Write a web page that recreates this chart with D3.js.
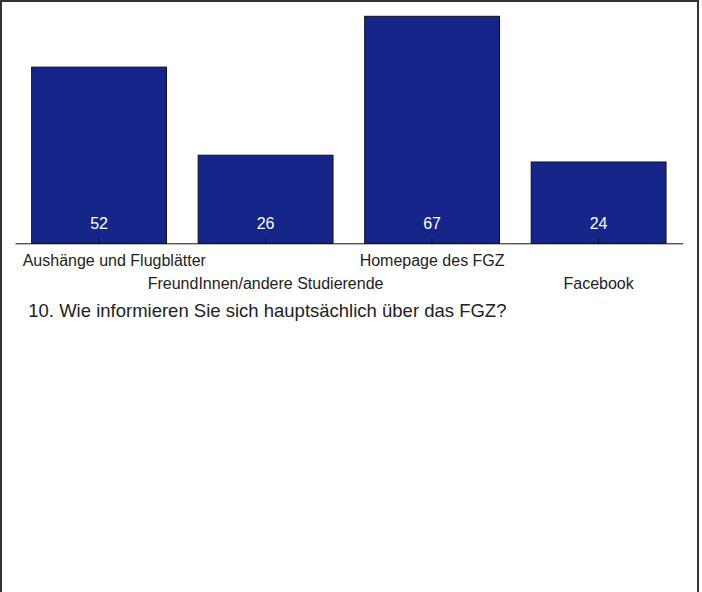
<!DOCTYPE html>
<html>
<head>
<meta charset="utf-8">
<script src="https://cdn.jsdelivr.net/npm/d3@7"></script>
<style>
  html, body { margin: 0; padding: 0; background: #fff; }
  svg { display: block; }
  text { font-family: "Liberation Sans", Arial, sans-serif; }
</style>
</head>
<body>
<svg id="chart" width="702" height="592"></svg>
<script>
const categories = ["Aushänge und Flugblätter", "FreundInnen/andere Studierende", "Homepage des FGZ", "Facebook"];
const values = [52, 26, 67, 24];
const title = "10. Wie informieren Sie sich hauptsächlich über das FGZ?";

const svg = d3.select("#chart");
const W = 702, H = 592;

// frame
svg.append("rect")
  .attr("x", 1).attr("y", 1).attr("width", 697).attr("height", H + 10)
  .attr("fill", "none").attr("stroke", "#333").attr("stroke-width", 2);

const axisY = 243.3;
const x = d3.scaleBand().domain(categories).range([15, 682.7]).paddingInner(0.19).paddingOuter(0.1);
const y = d3.scaleLinear().domain([0, d3.max(values)]).range([axisY, 16.3]);

const data = categories.map((c, i) => ({ c, v: values[i], i }));

svg.append("g").selectAll("rect").data(data).join("rect")
  .attr("x", d => x(d.c))
  .attr("y", d => y(d.v))
  .attr("width", x.bandwidth())
  .attr("height", d => y(0) - y(d.v))
  .attr("fill", "#15258a")
  .attr("stroke", "#111")
  .attr("stroke-width", 1);

// value labels
svg.append("g").selectAll("text").data(data).join("text")
  .attr("x", d => x(d.c) + x.bandwidth() / 2)
  .attr("y", y(0) - 14.3)
  .attr("text-anchor", "middle")
  .attr("font-size", 16)
  .attr("fill", "#fff")
  .text(d => d.v);

// axis
const axis = d3.axisBottom(x).tickSize(-5).tickFormat("").tickSizeOuter(0);
const gAxis = svg.append("g").attr("transform", `translate(0,${axisY})`).call(axis);
gAxis.select(".domain").attr("stroke", "#111");
gAxis.selectAll(".tick line").attr("stroke", "#111");

// category labels (alternating rows)
const labelG = svg.append("g");
labelG.selectAll("text").data(data).join("text")
  .attr("font-size", 16)
  .attr("fill", "#222")
  .attr("y", d => d.i % 2 === 0 ? 266.3 : 288.5)
  .text(d => d.c)
  .each(function(d) {
    const w = this.getComputedTextLength();
    const cx = x(d.c) + x.bandwidth() / 2;
    const left = Math.max(cx - w / 2, 22.7);
    d3.select(this).attr("x", left);
  });

// title
svg.append("text")
  .attr("x", 28.3).attr("y", 316.7)
  .attr("font-size", 18.5)
  .attr("fill", "#222")
  .text(title);
</script>
</body>
</html>
